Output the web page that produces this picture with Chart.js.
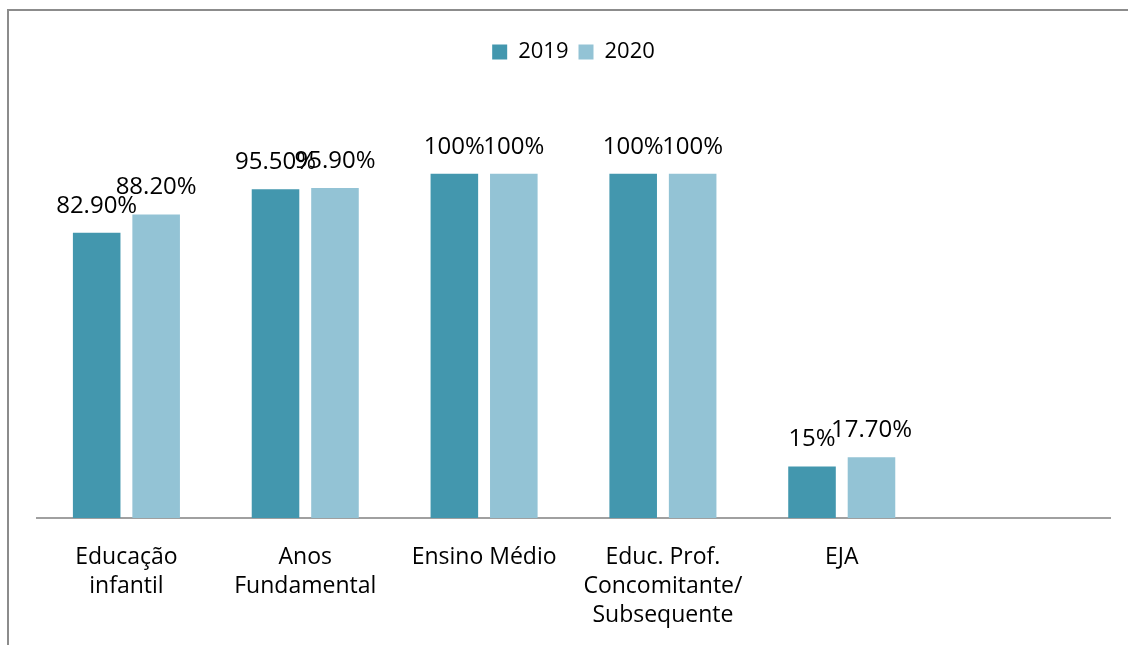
<!DOCTYPE html>
<html>
<head>
<meta charset="utf-8">
<script src="https://cdn.jsdelivr.net/npm/chart.js@4/dist/chart.umd.min.js"></script>
<style>
    html, body { margin: 0; padding: 0; background: #fff; }
    #wrap { position: relative; width: 1128px; height: 645px; overflow: hidden; }
    #frame {
        position: absolute; left: 7px; top: 9px; width: 1300px; height: 800px;
        border-left: 2px solid #8c8c8c; border-top: 2px solid #8c8c8c;
    }
    canvas { position: absolute; left: 0; top: 0; }
</style>
</head>
<body>
<div id="wrap">
    <div id="frame"></div>
    <canvas id="chart" width="1128" height="661"></canvas>
</div>
<script>
// Chart data
const categories = [
    ['Educação', 'infantil'],
    ['Anos', 'Fundamental'],
    'Ensino Médio',
    ['Educ. Prof.', 'Concomitante/', 'Subsequente'],
    'EJA',
    ''
];
const values2019 = [82.9, 95.5, 100, 100, 15, null];
const values2020 = [88.2, 95.9, 100, 100, 17.7, null];
const seriesNames = ['2019', '2020'];

const FONT = "'Open Sans', sans-serif";

function formatPct(v) {
    return Number.isInteger(v) ? v + '%' : v.toFixed(2) + '%';
}

// value labels above bars
const barLabels = {
    id: 'barLabels',
    afterDatasetsDraw(chart) {
        const ctx = chart.ctx;
        ctx.save();
        ctx.font = '24px ' + FONT;
        ctx.fillStyle = '#000';
        ctx.textAlign = 'center';
        ctx.textBaseline = 'middle';
        chart.data.datasets.forEach((ds, i) => {
            chart.getDatasetMeta(i).data.forEach((bar, j) => {
                const v = ds.data[j];
                if (v === null) return;
                ctx.fillText(formatPct(v), bar.x, bar.y - 27);
            });
        });
        ctx.restore();
    }
};

// extra space under the legend
const legendGap = {
    id: 'legendGap',
    beforeInit(chart) {
        const fit = chart.legend.fit;
        chart.legend.fit = function() {
            fit.bind(chart.legend)();
            this.height += 32;
        };
    }
};

new Chart(document.getElementById('chart'), {
    type: 'bar',
    data: {
        labels: categories,
        datasets: [{
            label: seriesNames[0],
            data: values2019,
            backgroundColor: '#4397ae'
        }, {
            label: seriesNames[1],
            data: values2020,
            backgroundColor: '#93c3d5'
        }]
    },
    options: {
        responsive: false,
        animation: false,
        layout: { padding: { left: 37, right: 18, top: 31, bottom: 14 } },
        categoryPercentage: 0.665,
        barPercentage: 0.8,
        plugins: {
            legend: {
                position: 'top',
                labels: {
                    boxWidth: 15,
                    boxHeight: 15,
                    padding: 10,
                    color: '#000',
                    font: { family: FONT, size: 22 }
                }
            },
            tooltip: { enabled: false }
        },
        scales: {
            x: {
                grid: { display: false },
                border: { display: true, color: '#a0a0a0', width: 2 },
                ticks: {
                    color: '#000',
                    padding: 17,
                    maxRotation: 0,
                    autoSkip: false,
                    font: { family: FONT, size: 23, lineHeight: 1.26 }
                }
            },
            y: {
                display: false,
                min: 0,
                max: 120
            }
        }
    },
    plugins: [barLabels, legendGap]
});
</script>
</body>
</html>
